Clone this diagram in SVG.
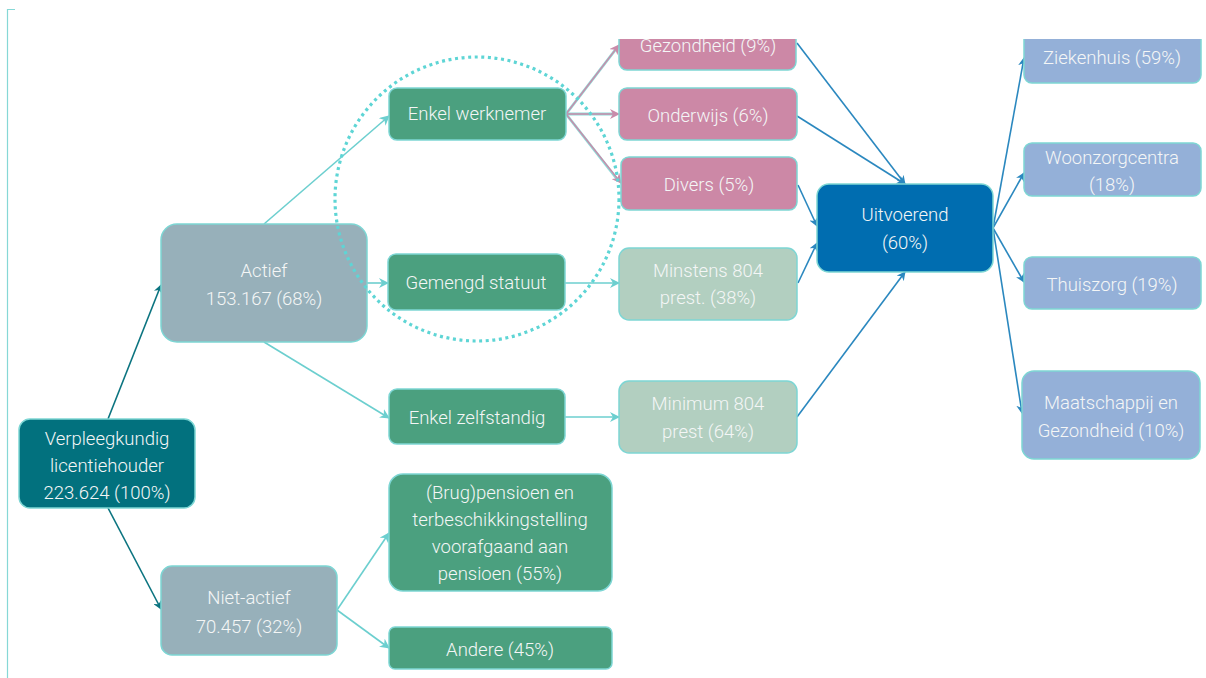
<svg xmlns="http://www.w3.org/2000/svg" width="1206" height="678" viewBox="0 0 1206 678">
<defs>
<style>
.n rect{stroke:#7DD6D4;stroke-width:1.5}
.n text{font-family:Roboto,"Liberation Sans",sans-serif;font-weight:300;font-size:18.5px;fill:#F4F6F6;text-anchor:middle;dominant-baseline:central}
.teal{fill:#02717E}
.grey{fill:#97B0BA}
.green{fill:#4BA07F}
.pink{fill:#CC88A6}
.pale{fill:#B2CFC0}
.blue{fill:#006DB0}
.lav{fill:#94B0D8}
.c{fill:none;stroke-width:1.6}
.cd{stroke:#0B7480;marker-end:url(#ad)}
.cl{stroke:#6CCFCF;marker-end:url(#al)}
.cp{stroke:#C98BAA;stroke-width:1.3;marker-end:url(#ap)}
.cpo{stroke:#8ED9D7;stroke-width:2.8}
.cb{stroke:#2B88BF;marker-end:url(#ab)}
</style>
<marker id="ad" viewBox="0 0 10 10" refX="9" refY="5" markerWidth="9" markerHeight="9" markerUnits="userSpaceOnUse" orient="auto"><path d="M0,0L10,5L0,10L3,5z" fill="#0B7480"/></marker>
<marker id="al" viewBox="0 0 10 10" refX="9" refY="5" markerWidth="10" markerHeight="10" markerUnits="userSpaceOnUse" orient="auto"><path d="M0,0L10,5L0,10L3,5z" fill="#6CCFCF"/></marker>
<marker id="ap" viewBox="0 0 10 10" refX="9" refY="5" markerWidth="10" markerHeight="10" markerUnits="userSpaceOnUse" orient="auto"><path d="M0,0L10,5L0,10L3,5z" fill="#C98BAA"/></marker>
<marker id="ab" viewBox="0 0 10 10" refX="9" refY="5" markerWidth="9" markerHeight="9" markerUnits="userSpaceOnUse" orient="auto"><path d="M0,0L10,5L0,10L3,5z" fill="#2B88BF"/></marker>
<clipPath id="clip"><rect x="0" y="39" width="1206" height="639"/></clipPath>
</defs>
<rect width="1206" height="678" fill="#FFFFFF"/>
<path d="M15,9.5H7.5V678" fill="none" stroke="#86D8D6" stroke-width="1.2"/>
<g clip-path="url(#clip)">
<g id="connectors">
<line class="c cd" x1="108" y1="419" x2="161" y2="285"/>
<line class="c cd" x1="108" y1="508" x2="161" y2="609"/>
<line class="c cl" x1="264" y1="224" x2="389" y2="116"/>
<line class="c cl" x1="367" y1="283" x2="388" y2="283"/>
<line class="c cl" x1="264" y1="342" x2="389" y2="418"/>
<line class="c cl" x1="337" y1="610" x2="389" y2="533"/>
<line class="c cl" x1="337" y1="610" x2="389" y2="648"/>
<line class="c cpo" x1="566" y1="114" x2="616" y2="49"/>
<line class="c cpo" x1="566" y1="114" x2="615" y2="114"/>
<line class="c cpo" x1="566" y1="114" x2="617" y2="179"/>
<line class="c cp" x1="566" y1="114" x2="619" y2="45"/>
<line class="c cp" x1="566" y1="114" x2="619" y2="114"/>
<line class="c cp" x1="566" y1="114" x2="621" y2="183"/>
<line class="c cl" x1="565" y1="283" x2="619" y2="283"/>
<line class="c cl" x1="565" y1="417" x2="619" y2="417"/>
<line class="c cb" x1="797" y1="43" x2="905" y2="184"/>
<line class="c cb" x1="797" y1="116" x2="905" y2="184"/>
<line class="c cb" x1="798" y1="185" x2="817" y2="226"/>
<line class="c cb" x1="798" y1="283" x2="817" y2="243"/>
<line class="c cb" x1="797" y1="417" x2="905" y2="272"/>
<line class="c cb" x1="993" y1="228" x2="1024" y2="58"/>
<line class="c cb" x1="993" y1="228" x2="1024" y2="173"/>
<line class="c cb" x1="993" y1="228" x2="1024" y2="282"/>
<line class="c cb" x1="993" y1="228" x2="1022" y2="413"/>
</g>
<g id="root" class="n"><rect class="teal" x="19" y="419" width="176" height="89" rx="11"/><text x="107" y="439">Verpleegkundig</text><text x="107" y="466">licentiehouder</text><text x="107" y="493">223.624 (100%)</text></g>
<g id="actief" class="n"><rect class="grey" x="161" y="224" width="206" height="118" rx="16"/><text x="264" y="271">Actief</text><text x="264" y="299">153.167 (68%)</text></g>
<g id="nietactief" class="n"><rect class="grey" x="161" y="566" width="176" height="89" rx="11"/><text x="249" y="598">Niet-actief</text><text x="249" y="627">70.457 (32%)</text></g>
<g id="werknemer" class="n"><rect class="green" x="389" y="88" width="177" height="52" rx="8"/><text x="477" y="114">Enkel werknemer</text></g>
<g id="gemengd" class="n"><rect class="green" x="388" y="254" width="177" height="56" rx="8"/><text x="476" y="283">Gemengd statuut</text></g>
<g id="zelfstandig" class="n"><rect class="green" x="389" y="389" width="176" height="55" rx="8"/><text x="477" y="418">Enkel zelfstandig</text></g>
<g id="pensioen" class="n"><rect class="green" x="389" y="474" width="223" height="117" rx="14"/><text x="500" y="493">(Brug)pensioen en</text><text x="500" y="520">terbeschikkingstelling</text><text x="500" y="547">voorafgaand  aan</text><text x="500" y="574">pensioen (55%)</text></g>
<g id="andere" class="n"><rect class="green" x="389" y="627" width="223" height="42" rx="6"/><text x="500" y="650">Andere (45%)</text></g>
<g id="gezondheid" class="n"><rect class="pink" x="619" y="18" width="177" height="52" rx="8"/><text x="708" y="46">Gezondheid (9%)</text></g>
<g id="onderwijs" class="n"><rect class="pink" x="619" y="88" width="178" height="52" rx="8"/><text x="708" y="116">Onderwijs (6%)</text></g>
<g id="divers" class="n"><rect class="pink" x="621" y="157" width="176" height="53" rx="8"/><text x="709" y="185">Divers (5%)</text></g>
<g id="minstens" class="n"><rect class="pale" x="619" y="248" width="178" height="72" rx="10"/><text x="708" y="271">Minstens 804</text><text x="708" y="298">prest. (38%)</text></g>
<g id="minimum" class="n"><rect class="pale" x="619" y="381" width="178" height="72" rx="10"/><text x="708" y="404">Minimum 804</text><text x="708" y="432">prest (64%)</text></g>
<g id="uitvoerend" class="n"><rect class="blue" x="817" y="184" width="176" height="88" rx="12"/><text x="905" y="215">Uitvoerend</text><text x="905" y="243">(60%)</text></g>
<g id="ziekenhuis" class="n"><rect class="lav" x="1024" y="31" width="177" height="52" rx="8"/><text x="1112" y="58">Ziekenhuis (59%)</text></g>
<g id="woonzorg" class="n"><rect class="lav" x="1024" y="143" width="177" height="53" rx="8"/><text x="1112" y="158">Woonzorgcentra</text><text x="1112" y="185">(18%)</text></g>
<g id="thuiszorg" class="n"><rect class="lav" x="1024" y="257" width="177" height="52" rx="8"/><text x="1112" y="285">Thuiszorg (19%)</text></g>
<g id="maatschappij" class="n"><rect class="lav" x="1022" y="371" width="178" height="88" rx="12"/><text x="1111" y="403">Maatschappij en</text><text x="1111" y="431">Gezondheid (10%)</text></g>
</g>
<circle cx="477" cy="199" r="142" fill="none" stroke="#5ED5D5" stroke-width="3.2" stroke-dasharray="3 3.6"/>
</svg>
